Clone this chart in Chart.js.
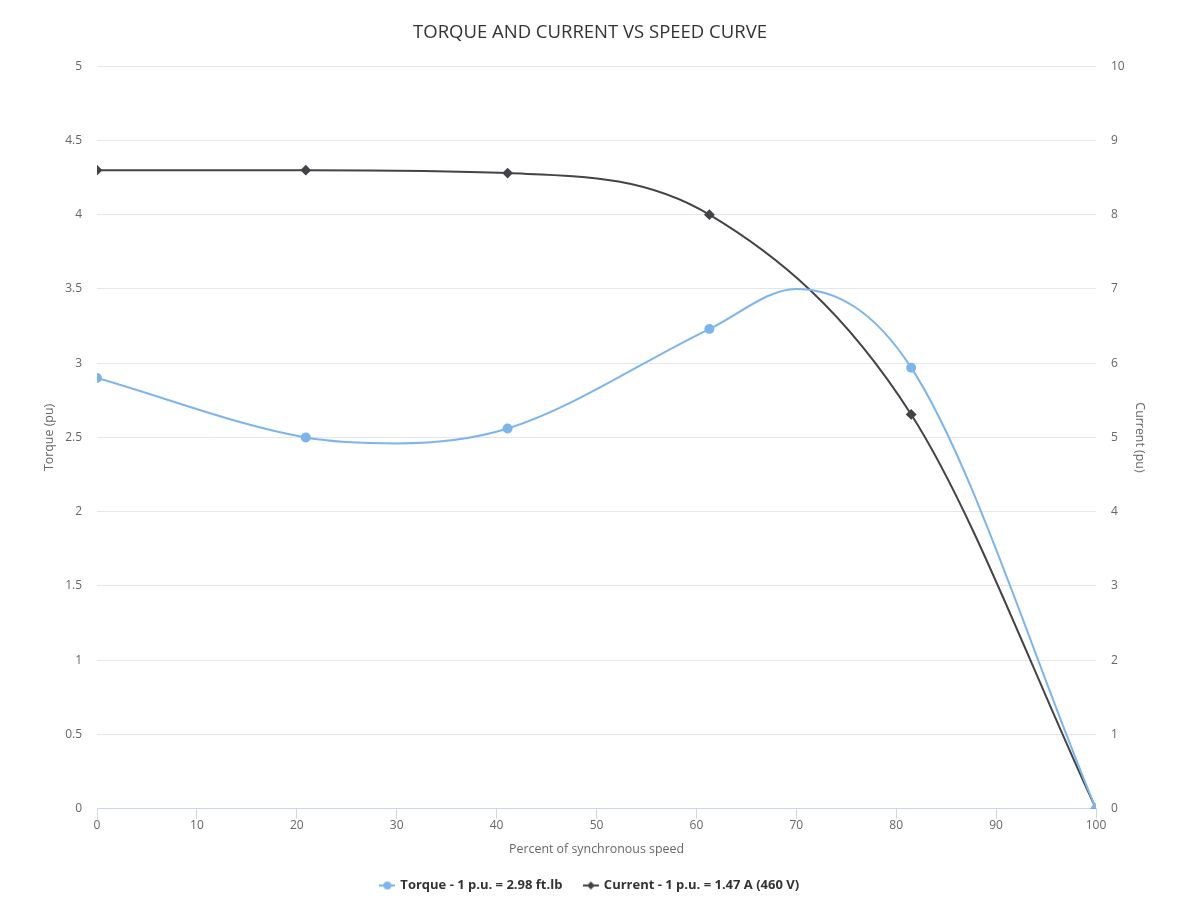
<!DOCTYPE html>
<html>
<head>
<meta charset="utf-8">
<title>Torque and current vs speed curve</title>
<script src="https://cdn.jsdelivr.net/npm/chart.js@4.4.0/dist/chart.umd.min.js"></script>
<style>
  html, body { margin: 0; padding: 0; background: #fff; }
  #wrap { width: 1180px; height: 904px; }
</style>
</head>
<body>
<div id="wrap"><canvas id="speedChart"></canvas></div>
<script>
// Données
const torqueSpeed = [0, 20.9, 30, 41.1, 61.3, 70, 81.5, 100];
const torquePu = [2.90, 2.50, 2.46, 2.56, 3.23, 3.50, 2.97, 0];
const torqueMarkerHidden = [2, 5]; // creux et sommet de la courbe, sans marqueur
const currentSpeed = [0, 20.9, 41.1, 61.3, 81.5, 100];
const currentPu = [8.6, 8.6, 8.56, 8.0, 5.31, 0];
const torqueLabel = 'Torque - 1 p.u. = 2.98 ft.lb';
const currentLabel = 'Current - 1 p.u. = 1.47 A (460 V)';

const torqueColor = '#7cb5ec';
const currentColor = '#434348';
const fontFamily = '"Open Sans", "DejaVu Sans", sans-serif';

// Petits symboles de légende (ligne + marqueur)
function legendSymbol(color, shape) {
    const c = document.createElement('canvas');
    c.width = 16; c.height = 10;
    const ctx = c.getContext('2d');
    ctx.strokeStyle = color;
    ctx.fillStyle = color;
    ctx.lineWidth = 2;
    ctx.beginPath();
    ctx.moveTo(0, 5); ctx.lineTo(16, 5);
    ctx.stroke();
    ctx.beginPath();
    if (shape === 'circle') {
        ctx.arc(8, 5, 4, 0, Math.PI * 2);
    } else {
        ctx.moveTo(8, 1); ctx.lineTo(12, 5); ctx.lineTo(8, 9); ctx.lineTo(4, 5); ctx.closePath();
    }
    ctx.fill();
    return c;
}

function toPoints(xs, ys) {
    return xs.map((x, i) => ({ x: x, y: ys[i] }));
}

const tickFont = { family: fontFamily, size: 12 };
const titleFont = { family: fontFamily, size: 12.4 };
const formatTick = (v) => String(Number(v.toFixed(1)));

const ctx = document.getElementById('speedChart').getContext('2d');
const speedChart = new Chart(ctx, {
    type: 'line',
    data: {
        datasets: [
            {
                label: torqueLabel,
                data: toPoints(torqueSpeed, torquePu),
                yAxisID: 'y',
                borderColor: torqueColor,
                backgroundColor: torqueColor,
                borderWidth: 2,
                pointStyle: 'circle',
                pointRadius: (c) => (torqueMarkerHidden.includes(c.dataIndex) ? 0 : 4),
                pointHoverRadius: 5,
                cubicInterpolationMode: 'monotone',
            },
            {
                label: currentLabel,
                data: toPoints(currentSpeed, currentPu),
                yAxisID: 'y1',
                borderColor: currentColor,
                backgroundColor: currentColor,
                borderWidth: 2,
                pointStyle: 'rectRot',
                pointRadius: 4,
                pointHoverRadius: 5,
                cubicInterpolationMode: 'monotone',
            },
        ],
    },
    options: {
        responsive: true,
        maintainAspectRatio: false,
        animation: false,
        layout: { padding: { top: 16, bottom: 2, left: 0, right: 0 } },
        plugins: {
            title: {
                display: true,
                text: 'TORQUE AND CURRENT VS SPEED CURVE',
                color: '#333333',
                font: { family: fontFamily, size: 18.5, weight: 'normal' },
                padding: { top: 6, bottom: 22 },
            },
            legend: {
                position: 'bottom',
                labels: {
                    color: '#333333',
                    font: { family: fontFamily, size: 13, weight: 'bold' },
                    usePointStyle: true,
                    padding: 22,
                    generateLabels: function (chart) {
                        return chart.data.datasets.map((ds, i) => ({
                            text: ds.label,
                            fillStyle: ds.borderColor,
                            strokeStyle: ds.borderColor,
                            fontColor: '#333333',
                            lineWidth: 0,
                            hidden: !chart.isDatasetVisible(i),
                            datasetIndex: i,
                            pointStyle: legendSymbol(ds.borderColor, i === 0 ? 'circle' : 'diamond'),
                        }));
                    },
                },
            },
            tooltip: { mode: 'index', intersect: false },
        },
        scales: {
            x: {
                type: 'linear',
                min: 0,
                max: 100,
                ticks: { stepSize: 10, color: '#666666', font: tickFont, padding: 0 },
                grid: { drawOnChartArea: false, drawTicks: true, tickLength: 10, color: '#ccd6eb' },
                border: { color: '#ccd6eb' },
                title: {
                    display: true,
                    text: 'Percent of synchronous speed',
                    color: '#666666',
                    font: titleFont,
                    padding: { top: 9, bottom: 0 },
                },
            },
            y: {
                position: 'left',
                min: 0,
                max: 5,
                ticks: { stepSize: 0.5, color: '#666666', font: tickFont, padding: 15, callback: formatTick },
                grid: { color: '#e6e6e6', drawTicks: false },
                border: { display: false },
                title: {
                    display: true,
                    text: 'Torque (pu)',
                    color: '#666666',
                    font: titleFont,
                    padding: { top: 42, bottom: 0 },
                },
                afterFit: function (scale) { scale.width = 97; },
            },
            y1: {
                position: 'right',
                min: 0,
                max: 10,
                ticks: { stepSize: 1, color: '#666666', font: tickFont, padding: 15, callback: formatTick },
                grid: { drawOnChartArea: false, drawTicks: false },
                border: { display: false },
                title: {
                    display: true,
                    text: 'Current (pu)',
                    color: '#666666',
                    font: titleFont,
                    padding: { top: 33, bottom: 0 },
                },
                afterFit: function (scale) { scale.width = 84; },
            },
        },
    },
});
</script>
</body>
</html>
